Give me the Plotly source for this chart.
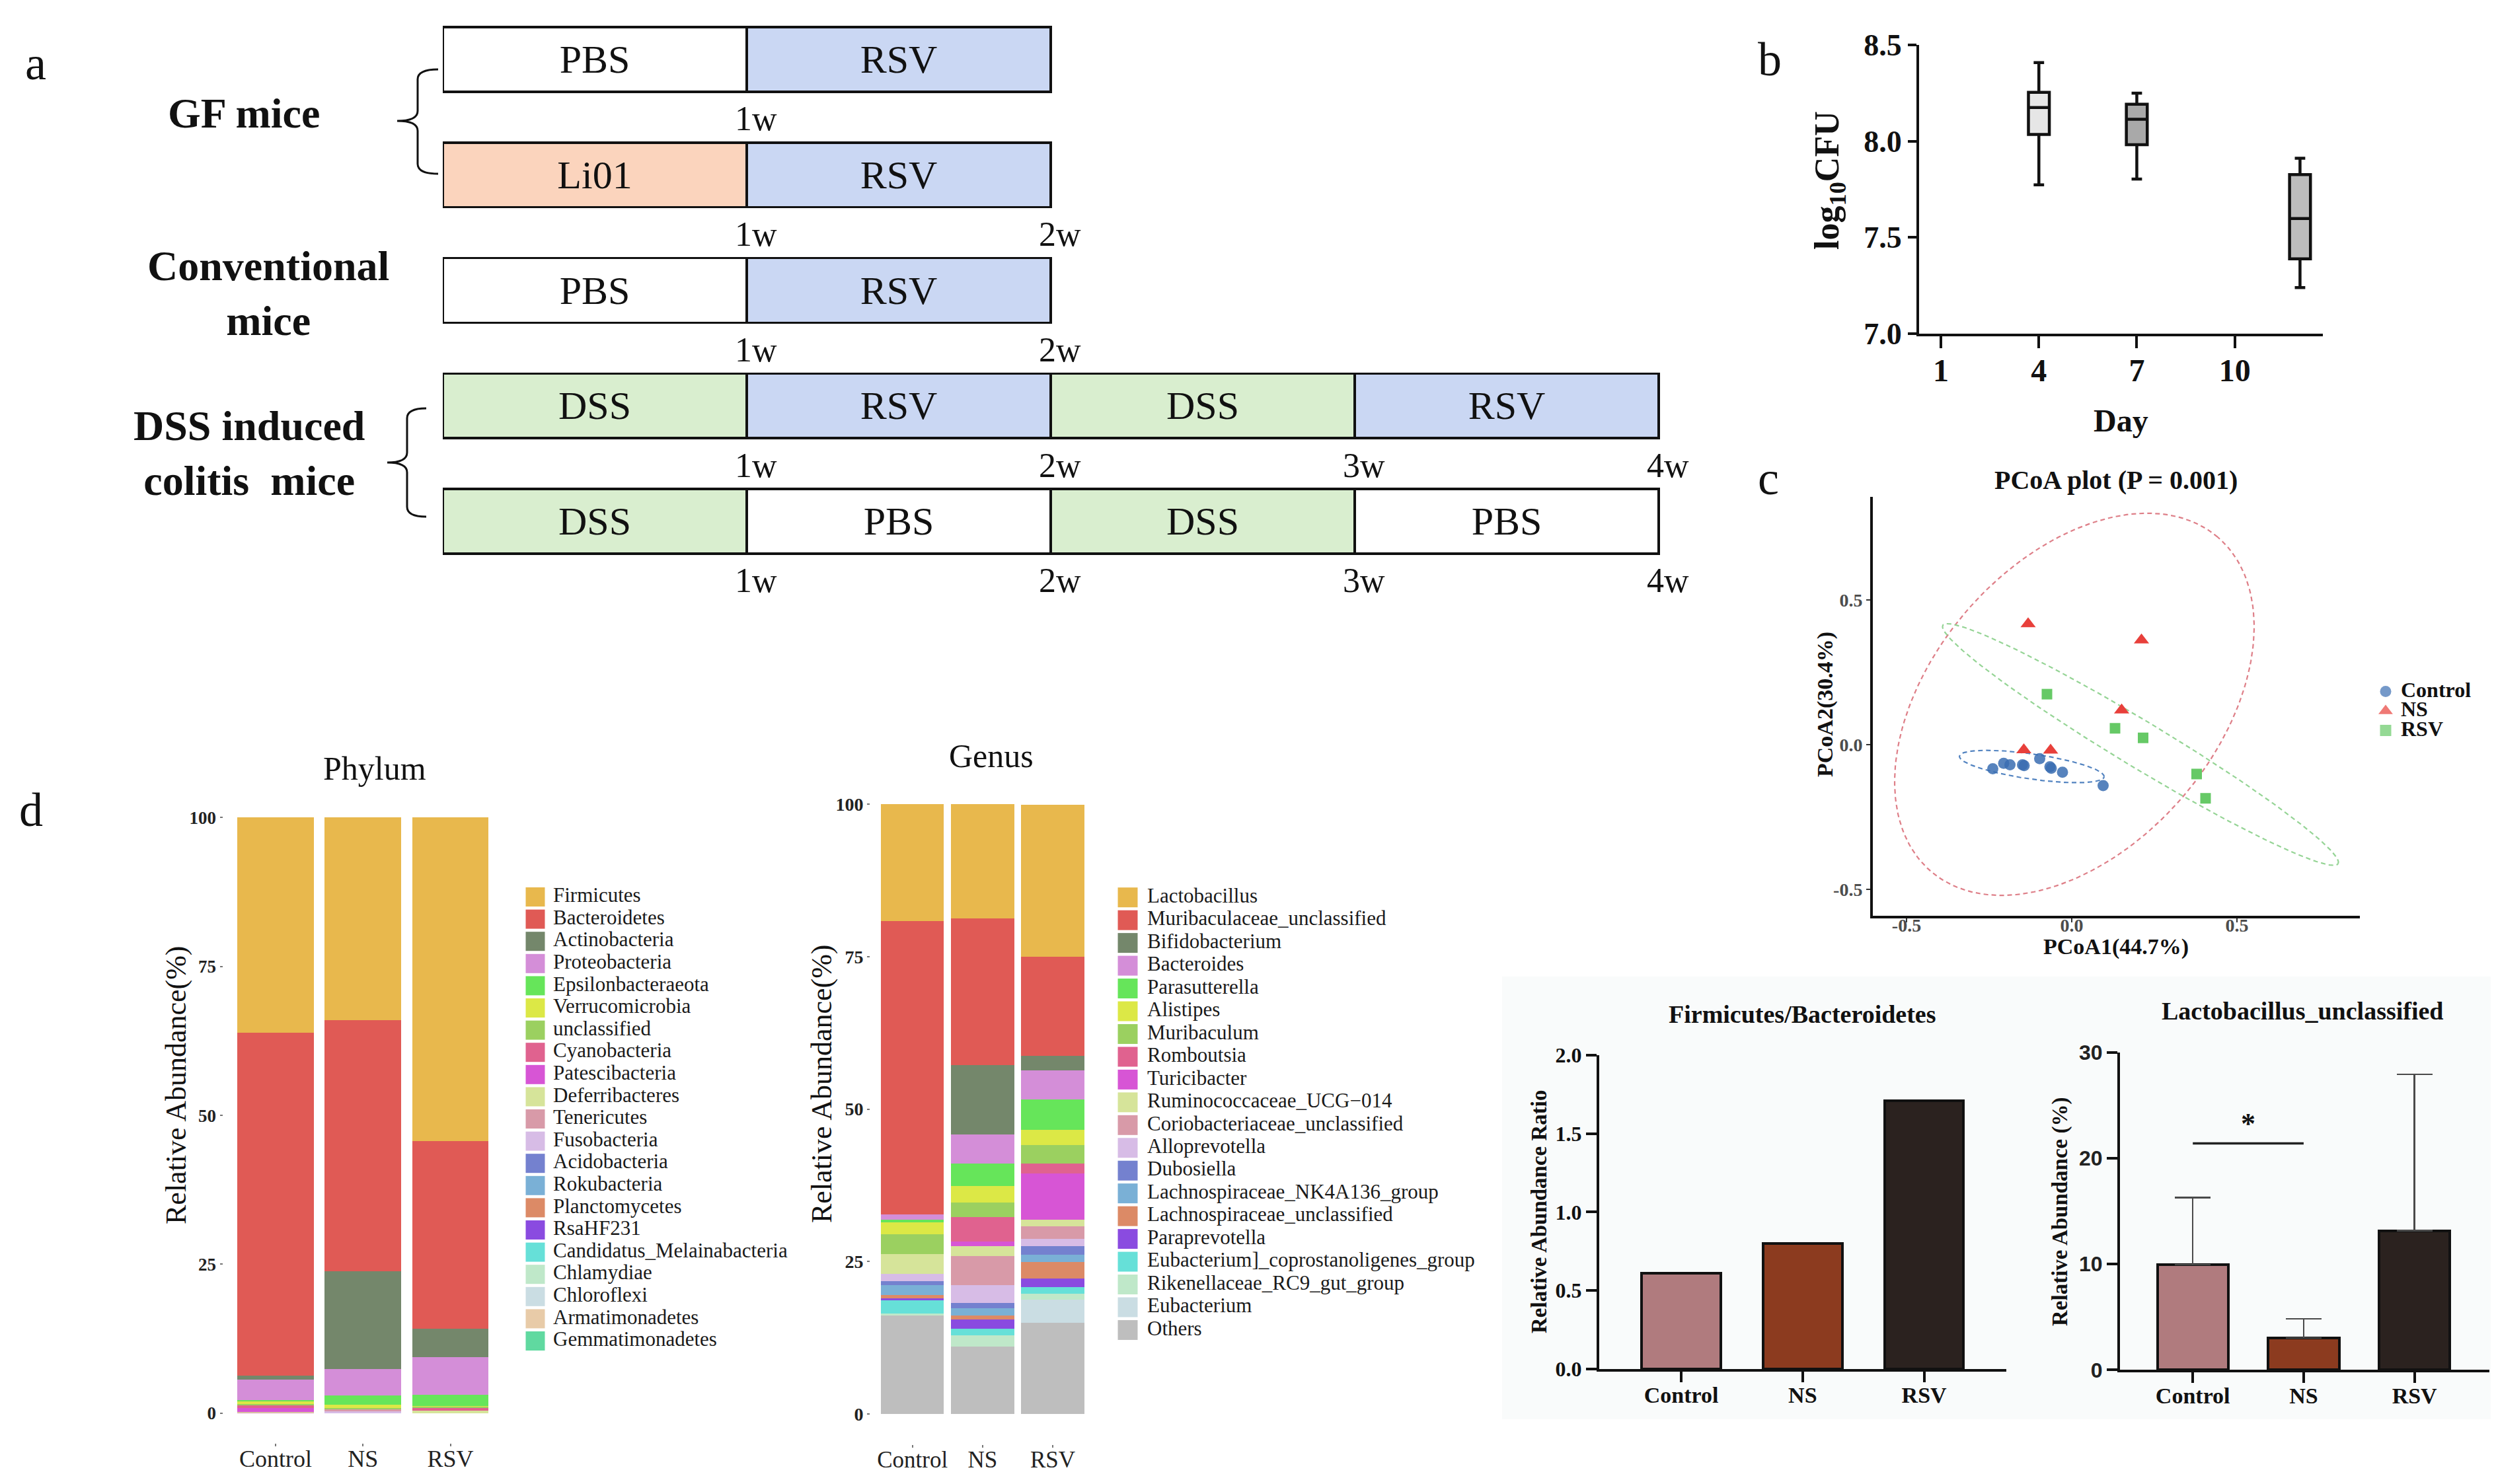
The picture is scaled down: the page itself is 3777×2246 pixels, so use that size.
import numpy as np
import plotly.graph_objects as go

W, H = 3777, 2246
SERIF = "Liberation Serif"
SANS = "Liberation Sans"
INK = "#111111"


def fx(x):
    return x / W


def fy(y):
    return 1 - y / H


def dom_x(a, b):
    return [a / W, b / W]


def dom_y(top, bottom):
    return [1 - bottom / H, 1 - top / H]


# ============================ DATA ============================
# (a) experimental timeline (one segment = one week)
timeline_rows = [0, 1, 2, 3, 4]
timeline_treat = [
    ["PBS", "RSV"],
    ["Li01", "RSV"],
    ["PBS", "RSV"],
    ["DSS", "RSV", "DSS", "RSV"],
    ["DSS", "PBS", "DSS", "PBS"],
]
week_marks = [[1], [1, 2], [1, 2], [1, 2, 3, 4], [1, 2, 3, 4]]
group_labels = ["GF mice", "Conventional<br>mice", "DSS induced<br>colitis  mice"]
treat_colors = {"PBS": "#ffffff", "RSV": "#cad7f3", "Li01": "#fbd4bd", "DSS": "#d9eecf"}

# (b) Li01 colonisation (log10 CFU box statistics)
cfu_day = [4, 7, 12]
cfu_lower = [7.773, 7.803, 7.239]
cfu_q1 = [8.035, 7.982, 7.389]
cfu_median = [8.175, 8.114, 7.598]
cfu_q3 = [8.254, 8.192, 7.826]
cfu_upper = [8.408, 8.249, 7.911]
cfu_fill = ["#e6e6e6", "#a9a9a9", "#bdbdbd"]
day_ticks = [1, 4, 7, 10]

# (c) PCoA
pcoa_groups = ["Control", "NS", "RSV"]
control_x = [-0.239, -0.206, -0.187, -0.149, -0.144, -0.097, -0.066, -0.062, -0.028, 0.095]
control_y = [-0.083, -0.064, -0.069, -0.069, -0.072, -0.048, -0.076, -0.081, -0.095, -0.141]
ns_x = [-0.132, 0.211, 0.151, -0.145, -0.064]
ns_y = [0.418, 0.362, 0.120, -0.018, -0.019]
rsv_x = [-0.075, 0.131, 0.216, 0.378, 0.405]
rsv_y = [0.175, 0.057, 0.024, -0.101, -0.185]
pcoa_colors = ["#3a6db2", "#e8403b", "#66c966"]
pcoa_symbols = ["circle", "triangle-up", "square"]
pcoa_sizes = [17, 20, 16]
ellipse_colors = ["#5283c0", "#de7f88", "#95d495"]
# confidence ellipses: centre and two conjugate half-axes (data units)
ellipse_cx = [-0.121, 0.008, 0.208]
ellipse_cy = [-0.075, 0.140, 0.001]
ellipse_ux = [0.2189, 0.4339, 0.5980]
ellipse_uy = [-0.0359, 0.5778, -0.4121]
ellipse_vx = [0.0054, -0.3281, 0.0362]
ellipse_vy = [0.0429, 0.3199, 0.0683]

# (d) community composition
groups = ["Control", "NS", "RSV"]
phylum_names = [
    "Firmicutes", "Bacteroidetes", "Actinobacteria", "Proteobacteria",
    "Epsilonbacteraeota", "Verrucomicrobia", "unclassified", "Cyanobacteria",
    "Patescibacteria", "Deferribacteres", "Tenericutes", "Fusobacteria",
    "Acidobacteria", "Rokubacteria", "Planctomycetes", "RsaHF231",
    "Candidatus_Melainabacteria", "Chlamydiae", "Chloroflexi",
    "Armatimonadetes", "Gemmatimonadetes",
]
phylum_values = [
    [36.10, 34.06, 54.34],
    [57.65, 42.10, 31.47],
    [0.64, 16.45, 4.78],
    [3.40, 4.44, 6.38],
    [0.30, 1.51, 1.85],
    [0.35, 0.56, 0.10],
    [0.30, 0.30, 0.20],
    [0.45, 0.00, 0.44],
    [0.60, 0.00, 0.00],
    [0.10, 0.00, 0.44],
    [0.11, 0.30, 0.00],
    [0.00, 0.28, 0.00],
    [0, 0, 0], [0, 0, 0], [0, 0, 0], [0, 0, 0], [0, 0, 0],
    [0, 0, 0], [0, 0, 0], [0, 0, 0], [0, 0, 0],
]
phylum_colors = [
    "#e8b84d", "#e05a55", "#74876b", "#d48ed8", "#66e55a", "#dce846",
    "#9bd060", "#e0628f", "#d755d5", "#d6e49a", "#d89aa8", "#d7bce6",
    "#7481cf", "#7ab0d6", "#dc8a66", "#8a4be0", "#66e0d8", "#bfe8c9",
    "#cadde3", "#e8cba8", "#60d9a0",
]
genus_names = [
    "Lactobacillus", "Muribaculaceae_unclassified", "Bifidobacterium",
    "Bacteroides", "Parasutterella", "Alistipes", "Muribaculum", "Romboutsia",
    "Turicibacter", "Ruminococcaceae_UCG\u2212014",
    "Coriobacteriaceae_unclassified", "Alloprevotella", "Dubosiella",
    "Lachnospiraceae_NK4A136_group", "Lachnospiraceae_unclassified",
    "Paraprevotella", "Eubacterium]_coprostanoligenes_group",
    "Rikenellaceae_RC9_gut_group", "Eubacterium", "Others",
]
genus_values = [
    [19.20, 18.70, 25.00],
    [48.10, 24.10, 16.27],
    [0.00, 11.40, 2.35],
    [0.90, 4.77, 4.80],
    [0.40, 3.63, 5.02],
    [1.94, 2.70, 2.46],
    [3.26, 2.45, 3.00],
    [0.00, 3.95, 1.69],
    [0.00, 0.76, 7.59],
    [3.30, 1.69, 1.01],
    [0.00, 4.77, 2.07],
    [1.14, 2.90, 1.26],
    [0.68, 0.90, 1.34],
    [1.63, 1.19, 1.23],
    [0.47, 0.65, 2.74],
    [0.38, 1.52, 1.38],
    [2.15, 1.08, 1.08],
    [0.29, 1.81, 1.01],
    [0.00, 0.00, 3.76],
    [16.16, 11.03, 14.93],
]
genus_colors = [
    "#e8b84d", "#e05a55", "#74876b", "#d48ed8", "#66e55a", "#dce846",
    "#9bd060", "#e0628f", "#d755d5", "#d6e49a", "#d89aa8", "#d7bce6",
    "#7481cf", "#7ab0d6", "#dc8a66", "#8a4be0", "#66e0d8", "#bfe8c9",
    "#cadde3", "#bebebe",
]

# Firmicutes / Bacteroidetes ratio
fb_ratio = [0.61, 0.80, 1.71]
# Lactobacillus_unclassified relative abundance (mean, SD)
lacto_mean = [9.95, 3.03, 13.16]
lacto_sd = [6.35, 1.79, 14.77]
sig_pair = ["Control", "NS"]
sig_level = 21.4
group_bar_colors = ["#b07b7e", "#8c3b1f", "#2b221f"]

# ============================ FIGURE ============================
fig = go.Figure()

# ---------- (a) timeline ----------
for r, treats in zip(timeline_rows, timeline_treat):
    for w, t in enumerate(treats):
        fig.add_trace(go.Bar(
            y=[r], x=[1], base=[w], orientation="h", width=0.56,
            marker=dict(color=treat_colors[t], line=dict(color=INK, width=3.5)),
            text=[t], textposition="inside", insidetextanchor="middle",
            textangle=0, constraintext="none",
            insidetextfont=dict(family=SERIF, size=60, color=INK),
            xaxis="x", yaxis="y", showlegend=False, hoverinfo="skip"))

wl_x, wl_y, wl_t = [], [], []
for r, weeks in zip(timeline_rows, week_marks):
    for wk in weeks:
        wl_x.append(wk + 0.03)
        wl_y.append(r + 0.54)
        wl_t.append(f"{wk}w")
fig.add_trace(go.Scatter(
    x=wl_x, y=wl_y, text=wl_t, mode="text", textposition="middle center",
    textfont=dict(family=SERIF, size=52, color=INK), cliponaxis=False,
    xaxis="x", yaxis="y", showlegend=False, hoverinfo="skip"))

# ---------- (b) box plot ----------
for d, lo, q1, med, q3, hi, fc in zip(cfu_day, cfu_lower, cfu_q1, cfu_median,
                                       cfu_q3, cfu_upper, cfu_fill):
    fig.add_trace(go.Box(
        x=[d], q1=[q1], median=[med], q3=[q3], lowerfence=[lo], upperfence=[hi],
        width=0.64, fillcolor=fc, line=dict(color=INK, width=4.5),
        whiskerwidth=0.5, boxpoints=False, xaxis="x2", yaxis="y2",
        showlegend=False, hoverinfo="skip"))

# ---------- (c) PCoA ----------
pcoa_x = [control_x, ns_x, rsv_x]
pcoa_y = [control_y, ns_y, rsv_y]
t = np.linspace(0, 2 * np.pi, 181)
for i, g in enumerate(pcoa_groups):
    ex = ellipse_cx[i] + ellipse_ux[i] * np.cos(t) + ellipse_vx[i] * np.sin(t)
    ey = ellipse_cy[i] + ellipse_uy[i] * np.cos(t) + ellipse_vy[i] * np.sin(t)
    fig.add_trace(go.Scatter(
        x=ex, y=ey, mode="lines",
        line=dict(color=ellipse_colors[i], width=2.2, dash="7px,5px"),
        xaxis="x3", yaxis="y3", showlegend=False, hoverinfo="skip"))
for i, g in enumerate(pcoa_groups):
    fig.add_trace(go.Scatter(
        x=pcoa_x[i], y=pcoa_y[i], mode="markers", name=g,
        marker=dict(color=pcoa_colors[i], symbol=pcoa_symbols[i],
                    size=pcoa_sizes[i], opacity=0.85 if i == 0 else 1.0,
                    line=dict(width=0)),
        xaxis="x3", yaxis="y3", showlegend=False))

# ---------- (d) stacked bars ----------
for name, col, vals in reversed(list(zip(phylum_names, phylum_colors, phylum_values))):
    fig.add_trace(go.Bar(
        x=groups, y=vals, name=name, marker=dict(color=col, line=dict(width=0)),
        width=0.875, xaxis="x4", yaxis="y4", showlegend=False))
for name, col, vals in reversed(list(zip(genus_names, genus_colors, genus_values))):
    fig.add_trace(go.Bar(
        x=groups, y=vals, name=name, marker=dict(color=col, line=dict(width=0)),
        width=0.9, xaxis="x5", yaxis="y5", showlegend=False))

# ---------- Firmicutes/Bacteroidetes ----------
fig.add_trace(go.Bar(
    x=groups, y=fb_ratio, width=0.65,
    marker=dict(color=group_bar_colors, line=dict(color=INK, width=4)),
    xaxis="x6", yaxis="y6", showlegend=False))

# ---------- Lactobacillus_unclassified ----------
fig.add_trace(go.Bar(
    x=groups, y=lacto_mean, width=0.64,
    marker=dict(color=group_bar_colors, line=dict(color=INK, width=4)),
    error_y=dict(type="data", symmetric=False, array=lacto_sd,
                 arrayminus=[0] * len(lacto_sd), color="#4a4a4a",
                 thickness=2.5, width=27),
    xaxis="x7", yaxis="y7", showlegend=False))
fig.add_trace(go.Scatter(
    x=sig_pair, y=[sig_level, sig_level], mode="lines",
    line=dict(color="#222222", width=3.5), xaxis="x7", yaxis="y7",
    showlegend=False, hoverinfo="skip"))


# ---------- manual legends on a pixel overlay axis ----------
def add_key_legend(names, colors, key_x, text_x, top, step, size, symbols=None,
                   font=None):
    ys = [top + i * step for i in range(len(names))]
    fig.add_trace(go.Scatter(
        x=[key_x] * len(names), y=ys, mode="markers",
        marker=dict(color=colors, size=size,
                    symbol=symbols if symbols else "square",
                    line=dict(width=0)),
        xaxis="x8", yaxis="y8", showlegend=False, hoverinfo="skip"))
    fig.add_trace(go.Scatter(
        x=[text_x] * len(names), y=ys, mode="text", text=names,
        textposition="middle right", textfont=font,
        xaxis="x8", yaxis="y8", showlegend=False, hoverinfo="skip",
        cliponaxis=False))


legend_font = dict(family=SERIF, size=31, color="#1a1a1a")
add_key_legend(phylum_names, phylum_colors, 802, 829, 1349.5, 33.6, 29, font=legend_font)
add_key_legend(genus_names, genus_colors, 1698.5, 1728, 1350.2, 34.46, 30, font=legend_font)
add_key_legend(pcoa_groups, pcoa_colors, 3602, 3625, 1038.5, 29.5, [17, 19, 17],
               symbols=pcoa_symbols,
               font=dict(family=SERIF, size=32, color=INK, weight="bold"))


# ============================ LAYOUT ============================
def ann(text, x, y, size, bold=False, angle=0, font=SERIF, color=INK,
        xanchor="center"):
    return dict(text=text, x=fx(x), y=fy(y), xref="paper", yref="paper",
                showarrow=False, textangle=angle, xanchor=xanchor,
                yanchor="middle",
                font=dict(family=font, size=size, color=color,
                          weight="bold" if bold else "normal"))


annotations = [
    ann("a", 46, 88, 72), ann("b", 2670, 82, 72),
    ann("c", 2668, 716, 72), ann("d", 39, 1218, 72),
    ann(group_labels[0], 361, 164, 64, bold=True),
    ann(group_labels[1], 398, 436, 64, bold=True),
    ann(group_labels[2], 369, 678, 64, bold=True),
    ann("log<sub>10</sub>CFU", 2761, 265, 52, bold=True, angle=-90),
    ann("Day", 3201, 628, 48, bold=True),
    ann("PCoA plot (P = 0.001)", 3194, 718, 40, bold=True),
    ann("PCoA2(30.4%)", 2754, 1058, 34, bold=True, angle=-90),
    ann("PCoA1(44.7%)", 3194, 1425, 34, bold=True),
    ann("Phylum", 559, 1155, 50),
    ann("Relative Abundance(%)", 258, 1634, 44, angle=-90),
    ann("Genus", 1492, 1136, 50),
    ann("Relative Abundance(%)", 1235, 1632, 44, angle=-90),
    ann("Firmicutes/Bacteroidetes", 2719, 1527, 38, bold=True),
    ann("Relative Abundance Ratio", 2321, 1826, 33, bold=True, angle=-90),
    ann("Lactobacillus_unclassified", 3476, 1522, 38, bold=True),
    ann("Relative Abundance (%)", 3109, 1826, 33, bold=True, angle=-90),
    dict(text="*", x=0.5, y=23.3, xref="x7", yref="y7", showarrow=False,
         font=dict(family=SERIF, size=44, color=INK, weight="bold")),
]


def brace(x_tip, x_stem, x_end, y_top, y_mid, y_bot, r=15):
    pts = [("M", x_end, y_top), ("Q", x_stem, y_top), ("", x_stem, y_top + r),
           ("L", x_stem, y_mid - r), ("Q", x_stem, y_mid), ("", x_tip, y_mid),
           ("Q", x_stem, y_mid), ("", x_stem, y_mid + r),
           ("L", x_stem, y_bot - r), ("Q", x_stem, y_bot), ("", x_end, y_bot)]
    s = ""
    for cmd, x, y in pts:
        s += f"{cmd}{fx(x):.5f},{fy(y):.5f} "
    return dict(type="path", path=s.strip(), xref="paper", yref="paper",
                line=dict(color=INK, width=3))


shapes = [
    dict(type="rect", xref="paper", yref="paper", x0=fx(2265), x1=1,
         y0=fy(2140), y1=fy(1470), fillcolor="#f9fbfb", line=dict(width=0),
         layer="below"),
    brace(593, 624, 655, 97, 175, 255),
    brace(578, 608, 637, 610, 692, 774),
]

hidden = dict(visible=False, showgrid=False, zeroline=False, automargin=False)


def boxed_axis(**kw):
    base = dict(showline=True, linecolor=INK, linewidth=4, ticks="outside",
                tickcolor=INK, tickwidth=4, showgrid=False, zeroline=False,
                automargin=False)
    base.update(kw)
    return base


def gg_axis(**kw):
    base = dict(showline=False, ticks="outside", tickcolor="#777777",
                tickwidth=1.5, ticklen=4, showgrid=False, zeroline=False,
                automargin=False)
    base.update(kw)
    return base


WEEK_PX = 460
layout = dict(
    width=W, height=H, autosize=False,
    margin=dict(l=0, r=0, t=0, b=0, pad=0),
    paper_bgcolor="white", plot_bgcolor="rgba(0,0,0,0)",
    barmode="stack", boxmode="overlay", showlegend=False,
    annotations=annotations, shapes=shapes,
    # (a)
    xaxis=dict(hidden, domain=dom_x(662, 662 + 4.3 * WEEK_PX), range=[0, 4.3], anchor="y"),
    yaxis=dict(hidden, domain=dom_y(12.1, 912.1), range=[4.75, -0.4], anchor="x"),
    # (b)
    xaxis2=boxed_axis(domain=dom_x(2896, 3507), range=[0.33, 12.7],
                      tickvals=day_ticks, ticklen=18, anchor="y2",
                      ticklabelstandoff=-8,
                      tickfont=dict(family=SERIF, size=48, color=INK, weight="bold")),
    yaxis2=boxed_axis(domain=dom_y(60, 497), range=[7.0, 8.5],
                      tickvals=[7.0, 7.5, 8.0, 8.5], tickformat=".1f",
                      ticklen=13, anchor="x2",
                      tickfont=dict(family=SERIF, size=46, color=INK, weight="bold")),
    # (c)
    xaxis3=boxed_axis(domain=dom_x(2826, 3563), range=[-0.602, 0.872],
                      tickvals=[-0.5, 0, 0.5], ticktext=["-0.5", "0.0", "0.5"],
                      ticklen=6, tickwidth=2, tickcolor="#333333", anchor="y3",
                      ticklabelstandoff=-20,
                      tickfont=dict(family=SERIF, size=28, color="#4d4d4d", weight="bold")),
    yaxis3=boxed_axis(domain=dom_y(744, 1378), range=[-0.591, 0.857],
                      tickvals=[-0.5, 0, 0.5], ticktext=["-0.5", "0.0", "0.5"],
                      ticklen=6, tickwidth=2, tickcolor="#333333", anchor="x3",
                      tickfont=dict(family=SERIF, size=28, color="#4d4d4d", weight="bold")),
    # (d) phylum
    xaxis4=gg_axis(domain=dom_x(329.5, 753), type="category",
                   categoryorder="array", categoryarray=groups,
                   range=[-0.6, 2.6], anchor="y4", ticklabelstandoff=-12,
                   tickfont=dict(family=SERIF, size=36, color="#222222")),
    yaxis4=gg_axis(domain=dom_y(1184.4, 2175.7), range=[-5, 105],
                   tickvals=[0, 25, 50, 75, 100], anchor="x4",
                   tickfont=dict(family=SERIF, size=27, color="#222222", weight="bold")),
    # (d) genus
    xaxis5=gg_axis(domain=dom_x(1309, 1648.7), type="category",
                   categoryorder="array", categoryarray=groups,
                   range=[-0.6, 2.6], anchor="y5", ticklabelstandoff=-12,
                   tickfont=dict(family=SERIF, size=35, color="#222222")),
    yaxis5=gg_axis(domain=dom_y(1163.3, 2177.8), range=[-5, 105],
                   tickvals=[0, 25, 50, 75, 100], anchor="x5",
                   tickfont=dict(family=SERIF, size=28, color="#222222", weight="bold")),
    # F/B ratio
    xaxis6=boxed_axis(domain=dom_x(2412, 3028), type="category",
                      categoryorder="array", categoryarray=groups,
                      range=[-0.675, 2.677], ticklen=16, anchor="y6",
                      ticklabelstandoff=-10,
                      tickfont=dict(family=SERIF, size=34, color=INK, weight="bold")),
    yaxis6=boxed_axis(domain=dom_y(1588.8, 2063.9), range=[0, 2.0],
                      tickvals=[0, 0.5, 1.0, 1.5, 2.0], tickformat=".1f",
                      ticklen=16, anchor="x6",
                      tickfont=dict(family=SERIF, size=32, color=INK, weight="bold")),
    # Lactobacillus
    xaxis7=boxed_axis(domain=dom_x(3200, 3758.7), type="category",
                      categoryorder="array", categoryarray=groups,
                      range=[-0.657, 2.674], ticklen=16, anchor="y7",
                      ticklabelstandoff=-10,
                      tickfont=dict(family=SERIF, size=34, color=INK, weight="bold")),
    yaxis7=boxed_axis(domain=dom_y(1584.8, 2065.4), range=[0, 30],
                      tickvals=[0, 10, 20, 30], ticklen=16, anchor="x7",
                      tickfont=dict(family=SANS, size=32, color="#222222", weight="bold")),
    # pixel overlay for legends
    xaxis8=dict(hidden, domain=[0, 1], range=[0, W], anchor="y8"),
    yaxis8=dict(hidden, domain=[0, 1], range=[H, 0], anchor="x8"),
)
fig.update_layout(**layout)

fig.write_html("out.html")
